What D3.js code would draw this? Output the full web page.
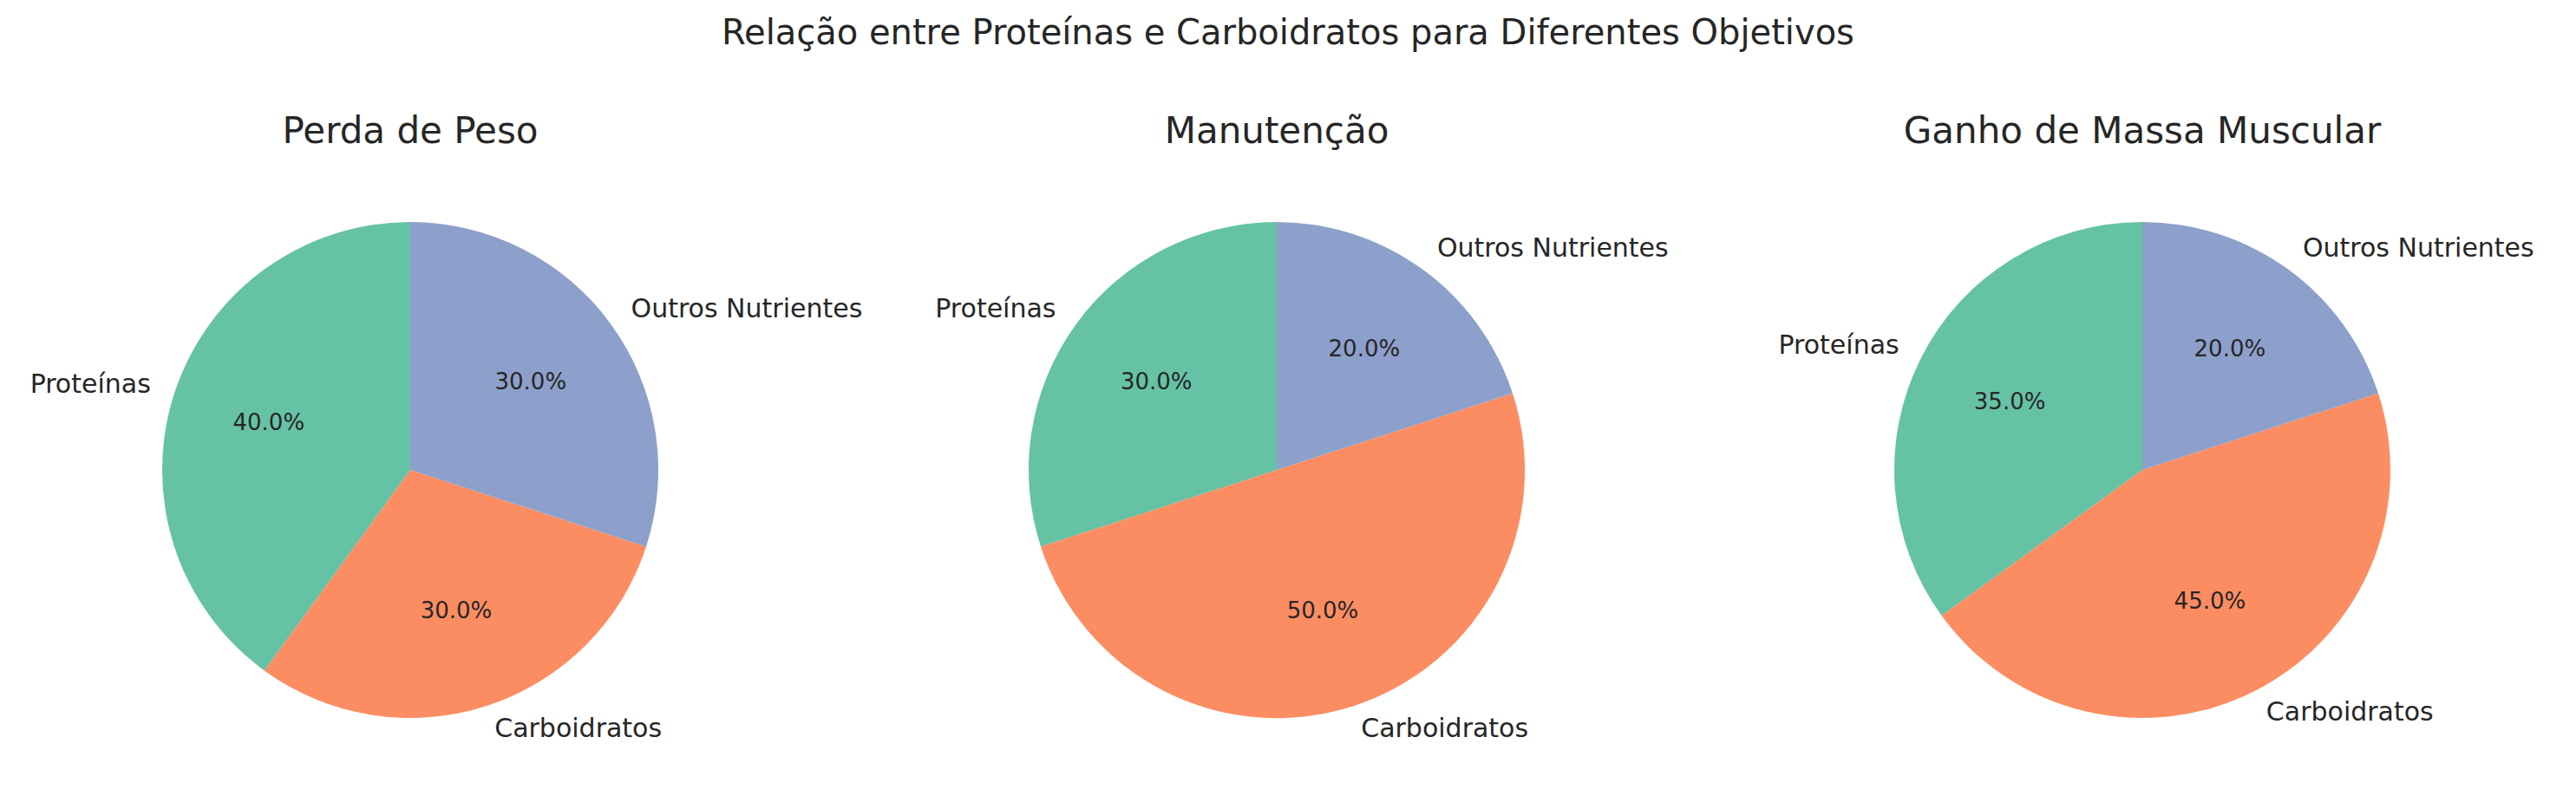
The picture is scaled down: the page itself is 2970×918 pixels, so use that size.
<!DOCTYPE html>
<html><head><meta charset="utf-8">
<script src="https://cdn.jsdelivr.net/npm/d3@7"></script>
<style>body{margin:0;background:#fff}</style></head>
<body><svg id="c" width="2970" height="918"></svg>
<script>
const categories = ["Proteínas","Carboidratos","Outros Nutrientes"];
const goals = ["Perda de Peso","Manutenção","Ganho de Massa Muscular"];
const perdaValues = [40,30,30];
const manutencaoValues = [30,50,20];
const ganhoValues = [35,45,20];
const seriesValues = [perdaValues, manutencaoValues, ganhoValues];
const colors = ["#66c2a5","#fc8d62","#8da0cb"];

const svg = d3.select("#c");
const font = "'DejaVu Sans', sans-serif";
svg.append("text").attr("x",1485).attr("y",40).attr("text-anchor","middle")
  .attr("dominant-baseline","middle").attr("font-family",font).attr("font-size",40)
  .attr("fill","#262626").text("Relação entre Proteínas e Carboidratos para Diferentes Objetivos");

const cx = d3.scaleOrdinal().domain(goals).range([473,1472,2470]);
const cy = 542, R = 286;
goals.forEach((g,i)=>{
  const vals = seriesValues[i];
  const total = d3.sum(vals);
  const gr = svg.append("g").attr("transform",`translate(${cx(g)},${cy})`);
  gr.append("text").attr("x",0).attr("y",153-cy).attr("text-anchor","middle")
    .attr("dominant-baseline","middle").attr("font-family",font).attr("font-size",42)
    .attr("fill","#262626").text(g);
  // matplotlib: start at 90deg, counterclockwise -> d3 angles negative
  const pie = d3.pie().sort(null).startAngle(0).endAngle(-2*Math.PI);
  const arcs = pie(vals);
  const arc = d3.arc().innerRadius(0).outerRadius(R);
  gr.selectAll("path").data(arcs).join("path").attr("d",arc)
    .attr("fill",(d,j)=>colors[j]);
  arcs.forEach((d,j)=>{
    const mid = (d.startAngle+d.endAngle)/2; // d3 angle clockwise from top
    const sx = Math.sin(mid), sy = -Math.cos(mid);
    gr.append("text").attr("x",1.1*R*sx).attr("y",1.1*R*sy)
      .attr("text-anchor", sx>0?"start":"end").attr("dominant-baseline","middle")
      .attr("font-family",font).attr("font-size",30).attr("fill","#262626").text(categories[j]);
    gr.append("text").attr("x",0.6*R*sx).attr("y",0.6*R*sy)
      .attr("text-anchor","middle").attr("dominant-baseline","middle")
      .attr("font-family",font).attr("font-size",26).attr("fill","#262626")
      .text((vals[j]/total*100).toFixed(1)+"%");
  });
});
</script></body></html>
